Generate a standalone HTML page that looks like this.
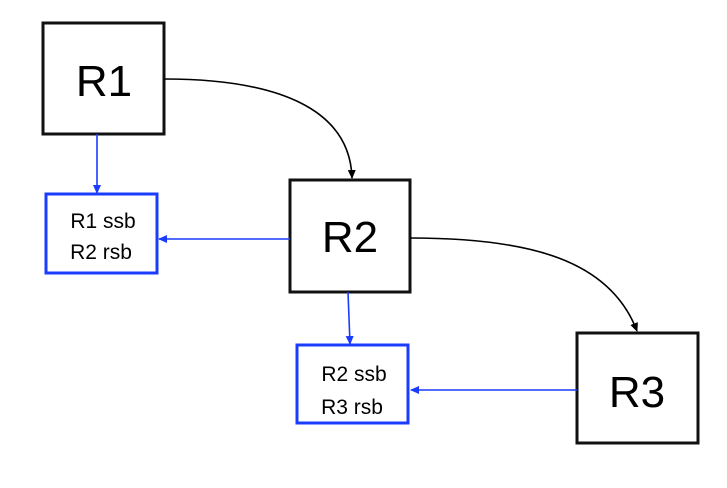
<!DOCTYPE html>
<html><head><style>
body{margin:0;width:727px;height:483px;background:#fff;overflow:hidden}
</style></head><body>
<svg width="727" height="483" viewBox="0 0 727 483" xmlns="http://www.w3.org/2000/svg" font-family="Liberation Sans, sans-serif">
<defs>
<marker id="ak" markerWidth="10" markerHeight="10" refX="8" refY="5" orient="auto" markerUnits="userSpaceOnUse"><path d="M0,1 L9,5 L0,9 z" fill="#000"/></marker>
<marker id="ab" markerWidth="10" markerHeight="10" refX="8" refY="5" orient="auto" markerUnits="userSpaceOnUse"><path d="M0,1 L9,5 L0,9 z" fill="#1a3cff"/></marker>
</defs>
<g fill="none" stroke-width="3">
<rect x="43" y="23" width="121" height="111" stroke="#111"/>
<rect x="290" y="180" width="120" height="112" stroke="#111"/>
<rect x="577" y="333" width="121" height="110" stroke="#111"/>
<rect x="46" y="194" width="111" height="79" stroke="#1a3cff"/>
<rect x="297" y="345" width="111" height="78" stroke="#1a3cff"/>
</g>
<g fill="none" stroke-width="1.6">
<path d="M164,79 C280,79 350,110 352,178" stroke="#000" marker-end="url(#ak)"/>
<path d="M410,238 C530,238 610,260 637,331" stroke="#000" marker-end="url(#ak)"/>
<path d="M97,134 L97,193" stroke="#1a3cff" marker-end="url(#ab)"/>
<path d="M290,239 L159,239" stroke="#1a3cff" marker-end="url(#ab)"/>
<path d="M348,292 L350,344" stroke="#1a3cff" marker-end="url(#ab)"/>
<path d="M577,390 L411,390" stroke="#1a3cff" marker-end="url(#ab)"/>
</g>
<g fill="#000" text-anchor="middle">
<text x="104" y="96" font-size="44">R1</text>
<text x="350" y="252" font-size="44">R2</text>
<text x="637" y="407" font-size="44">R3</text>
<text x="103" y="228" font-size="21">R1 ssb</text>
<text x="101" y="259" font-size="21">R2 rsb</text>
<text x="354" y="381" font-size="21">R2 ssb</text>
<text x="352" y="414" font-size="21">R3 rsb</text>
</g>
</svg>
</body></html>
